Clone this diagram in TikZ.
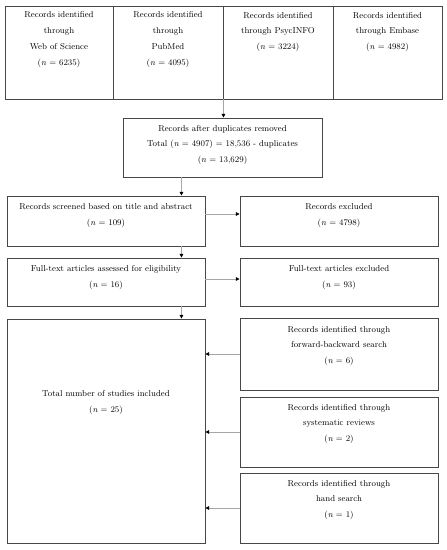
\documentclass[tikz,border=0pt]{standalone}
\usetikzlibrary{arrows.meta,calc}
\begin{document}
\begin{tikzpicture}[x=1pt,y=-1pt,
  box/.style={draw=black!72,line width=0.9pt,inner sep=0pt,rectangle},
  txt/.style={align=center,inner sep=0pt,text=black,font=\fontsize{8.6}{15.8}\selectfont},
  conn/.style={draw=black!35,line width=0.8pt,-{Triangle[length=3.6pt,width=3.6pt,fill=black,color=black]}},
  plain/.style={draw=black!35,line width=0.8pt}]
\useasboundingbox (0,0) rectangle (447,550);
% top row
\node[box,minimum width=108pt,minimum height=93pt] (t1) at (59,52.5) {};
\node[box,minimum width=110pt,minimum height=93pt] (t2) at (168,52.5) {};
\node[box,minimum width=110pt,minimum height=93pt] (t3) at (278,52.5) {};
\node[box,minimum width=109pt,minimum height=93pt] (t4) at (387.5,52.5) {};
\node[txt] (t1t) at (59,39.5) {Records identified\\through\\Web of Science\\(\textit{n} = 6235)};
\node[txt] (t2t) at (168,39.5) {Records identified\\through\\PubMed\\(\textit{n} = 4095)};
\node[txt] (t3t) at (278,32) {Records identified\\through PsycINFO\\(\textit{n} = 3224)};
\node[txt] (t4t) at (387.5,32) {Records identified\\through Embase\\(\textit{n} = 4982)};
% duplicates
\node[box,minimum width=199pt,minimum height=59pt] (dup) at (222.5,147.5) {};
\node[txt] (dupt) at (222.5,145) {Records after duplicates removed\\Total (\textit{n} = 4907) = 18,536 - duplicates\\(\textit{n} = 13,629)};
% screened
\node[box,minimum width=198pt,minimum height=50pt] (scr) at (106,221) {};
\node[txt] (scrt) at (106,215.5) {Records screened based on title and abstract\\(\textit{n} = 109)};
\node[box,minimum width=198pt,minimum height=50pt] (exc) at (339,221) {};
\node[txt] (exct) at (339,215.5) {Records excluded\\(\textit{n} = 4798)};
% full text
\node[box,minimum width=198pt,minimum height=48pt] (ft) at (106,282) {};
\node[txt] (ftt) at (106,277.5) {Full-text articles assessed for eligibility\\(\textit{n} = 16)};
\node[box,minimum width=198pt,minimum height=48pt] (ftx) at (339,282) {};
\node[txt] (ftxt) at (339,277.5) {Full-text articles excluded\\(\textit{n} = 93)};
% total
\node[box,minimum width=198pt,minimum height=224pt] (tot) at (106,431) {};
\node[txt] (tott) at (106,402.5) {Total number of studies included\\(\textit{n} = 25)};
% additional
\node[box,minimum width=198pt,minimum height=72pt] (fb) at (339,354) {};
\node[txt] (fbt) at (339,346) {Records identified through\\forward-backward search\\(\textit{n} = 6)};
\node[box,minimum width=198pt,minimum height=70pt] (sr) at (339,432) {};
\node[txt] (srt) at (339,424) {Records identified through\\systematic reviews\\(\textit{n} = 2)};
\node[box,minimum width=198pt,minimum height=70pt] (hs) at (339,508) {};
\node[txt] (hst) at (339,500) {Records identified through\\hand search\\(\textit{n} = 1)};
% connectors
\coordinate (xa) at ([xshift=-24pt]scr.north east);
\draw[conn] (t2.south east) -- (dup.north -| t2.south east);
\draw[conn] (dup.south -| xa) -- (xa);
\draw[conn] (scr.south -| xa) -- (ft.north -| xa);
\draw[conn] (ft.south -| xa) -- (tot.north -| xa);
\draw[conn] ([yshift=7pt]scr.east) -- ([yshift=7pt]exc.west);
\draw[conn] ([yshift=3pt]ft.east) -- ([yshift=3pt]ftx.west);
\draw[conn] (fb.west) -- (fb.west -| tot.east);
\draw[conn] (sr.west) -- (sr.west -| tot.east);
\draw[conn] (hs.west) -- (hs.west -| tot.east);
\end{tikzpicture}
\end{document}
